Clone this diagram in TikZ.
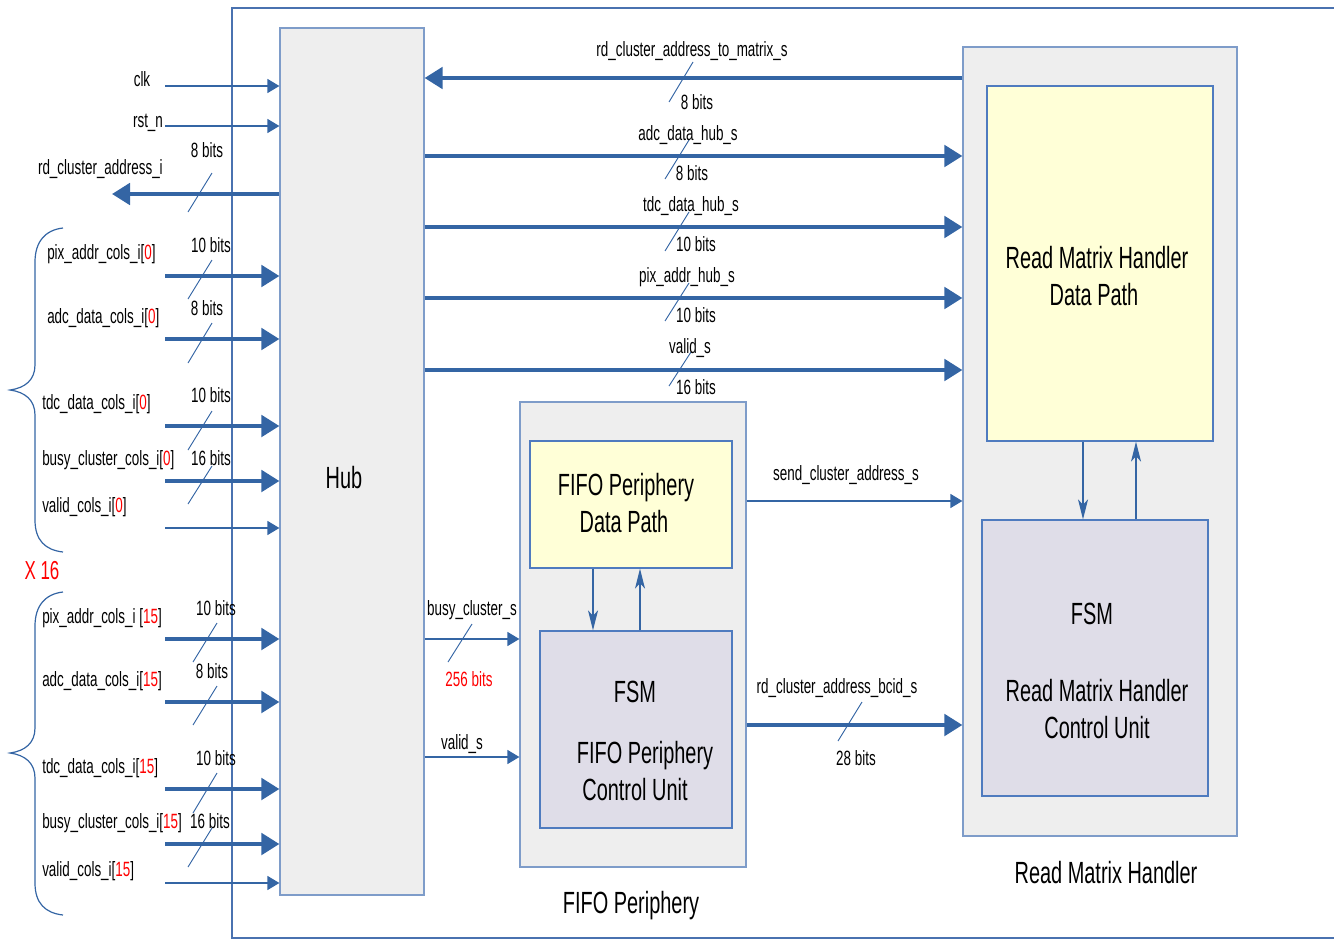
\documentclass[tikz,border=0pt]{standalone}
\usepackage{fontspec}
\setmainfont{Liberation Sans}[FakeStretch=0.65]
\usetikzlibrary{arrows.meta,fit}

\definecolor{wire}{HTML}{3465A4}
\definecolor{frameblue}{HTML}{4A72B0}
\definecolor{boxedge}{HTML}{4F7BBF}
\definecolor{outeredge}{HTML}{7E9CC9}
\definecolor{panel}{HTML}{EEEEEE}
\definecolor{dpfill}{HTML}{FFFFD7}
\definecolor{cufill}{HTML}{DFDDE8}
\definecolor{idx}{HTML}{FF0000}

\begin{document}
\begin{tikzpicture}[x=0.75pt,y=-0.75pt,
  sm/.style={font=\fontsize{15.5}{18}\selectfont, inner sep=0, anchor=base},
  smw/.style={sm, anchor=base west},
  big/.style={font=\fontsize{23}{27}\selectfont, inner sep=0, anchor=base},
  bus/.style={draw=wire, line width=3pt, -{Triangle[length=13.5pt,width=16pt]}},
  sig/.style={draw=wire, line width=1.1pt, -{Triangle[length=9pt,width=10.5pt]}},
  ctl/.style={draw=wire, line width=0.9pt, -{Stealth[length=15pt,width=7.5pt,inset=4pt]}},
  tick/.style={draw=wire, line width=0.7pt},
  brace/.style={draw=wire, line width=0.9pt},
  framing/.style={draw=frameblue, line width=0.9pt},
  outerbox/.style={draw=outeredge, fill=panel, line width=0.9pt, inner sep=0},
  dpbox/.style={draw=boxedge, fill=dpfill, line width=0.9pt, inner sep=0},
  cubox/.style={draw=boxedge, fill=cufill, line width=0.9pt, inner sep=0}]
\useasboundingbox (0,0) rectangle (1334,939);

% enclosing frame
\draw[framing] (1334,8) -- (232,8) -- (232,938) -- (1334,938);

% blocks
\node[outerbox, fit={(280,28) (424,895)}] (hub) {};
\node[big] (hubtxt) at (344,488) {Hub};

\node[outerbox, fit={(963,47) (1237,836)}] (rmh) {};
\node[dpbox, fit={(987,86) (1213,441)}] (rdp) {};
\node[cubox, fit={(982,520) (1208,796)}] (rcu) {};
\node[big] (rdpa) at (1097,268) {Read Matrix Handler};
\node[big] (rdpb) at (1094,305) {Data Path};
\node[big] (rcua) at (1092,624) {FSM};
\node[big] (rcub) at (1097,701) {Read Matrix Handler};
\node[big] (rcuc) at (1097,738) {Control Unit};
\node[big] (rmhtxt) at (1106,883) {Read Matrix Handler};

\node[outerbox, fit={(520,402) (746,867)}] (fifo) {};
\node[dpbox, fit={(530,441) (732,568)}] (fdp) {};
\node[cubox, fit={(540,631) (732,828)}] (fcu) {};
\node[big] (fdpa) at (626,495) {FIFO Periphery};
\node[big] (fdpb) at (624,532) {Data Path};
\node[big] (fcua) at (635,702) {FSM};
\node[big] (fcub) at (645,763) {FIFO Periphery};
\node[big] (fcuc) at (635,800) {Control Unit};
\node[big] (fifotxt) at (631,913) {FIFO Periphery};

% control links inside the blocks
\draw[ctl] (fdp.south -| 593,0) -- (fcu.north -| 593,0);
\draw[ctl] (fcu.north -| 640,0) -- (fdp.south -| 640,0);
\draw[ctl] (rdp.south -| 1083,0) -- (rcu.north -| 1083,0);
\draw[ctl] (rcu.north -| 1136,0) -- (rdp.south -| 1136,0);

% hub <-> read matrix handler
\draw[bus] (rmh.west |- 0,78) -- (hub.east |- 0,78);
\draw[bus] (hub.east |- 0,156) -- (rmh.west |- 0,156);
\draw[bus] (hub.east |- 0,227) -- (rmh.west |- 0,227);
\draw[bus] (hub.east |- 0,298) -- (rmh.west |- 0,298);
\draw[bus] (hub.east |- 0,370) -- (rmh.west |- 0,370);
\draw[tick] (693,62) -- (669,102);
\draw[tick] (689,140) -- (665,179);
\draw[tick] (689,212) -- (665,251);
\draw[tick] (689,283) -- (665,321);
\draw[tick] (691,352) -- (669,386);
\node[sm] (l1) at (692,56) {rd\_cluster\_address\_to\_matrix\_s};
\node[sm] (b1) at (697,109) {8 bits};
\node[sm] (l2) at (688,140) {adc\_data\_hub\_s};
\node[sm] (b2) at (692,180) {8 bits};
\node[sm] (l3) at (691,211) {tdc\_data\_hub\_s};
\node[sm] (b3) at (696,251) {10 bits};
\node[sm] (l4) at (687,282) {pix\_addr\_hub\_s};
\node[sm] (b4) at (696,322) {10 bits};
\node[sm] (l5) at (690,353) {valid\_s};
\node[sm] (b5) at (696,394) {16 bits};

% hub -> fifo periphery
\draw[sig] (hub.east |- 0,639) -- (fifo.west |- 0,639);
\draw[sig] (hub.east |- 0,757) -- (fifo.west |- 0,757);
\draw[tick] (472,624) -- (448,662);
\node[sm] (l6) at (472,615) {busy\_cluster\_s};
\node[sm, text=idx] (b6) at (469,686) {256 bits};
\node[sm] (l7) at (462,749) {valid\_s};

% fifo periphery -> read matrix handler
\draw[sig] (fifo.east |- 0,501) -- (rmh.west |- 0,501);
\draw[bus] (fifo.east |- 0,725) -- (rmh.west |- 0,725);
\draw[tick] (862,702) -- (838,741);
\node[sm] (l8) at (846,480) {send\_cluster\_address\_s};
\node[sm] (l9) at (837,693) {rd\_cluster\_address\_bcid\_s};
\node[sm] (b9) at (856,765) {28 bits};

% global ports
\coordinate (clkin) at (165,86);
\coordinate (rstin) at (165,126);
\coordinate (rdout) at (112,194);
\draw[sig] (clkin) -- (clkin -| hub.west);
\draw[sig] (rstin) -- (rstin -| hub.west);
\draw[bus] (hub.west |- rdout) -- (rdout);
\draw[tick] (212,173) -- (188,212);
\node[sm] (lclk) at (142,86) {clk};
\node[sm] (lrst) at (148,127) {rst\_n};
\node[sm, anchor=base east] (lrd) at (163,174) {rd\_cluster\_address\_i};
\node[sm] (brd) at (207,157) {8 bits};

% column 0 ports
\coordinate (p0) at (165,276);
\coordinate (a0) at (165,339);
\coordinate (t0) at (165,426);
\coordinate (c0) at (165,481);
\coordinate (v0) at (165,528);
\draw[bus] (p0) -- (p0 -| hub.west);
\draw[bus] (a0) -- (a0 -| hub.west);
\draw[bus] (t0) -- (t0 -| hub.west);
\draw[bus] (c0) -- (c0 -| hub.west);
\draw[sig] (v0) -- (v0 -| hub.west);
\draw[tick] (212,260) -- (188,299);
\draw[tick] (212,323) -- (188,363);
\draw[tick] (212,411) -- (188,450);
\draw[tick] (212,466) -- (188,504);
\node[smw] (lp0) at (47,259) {pix\_addr\_cols\_i[{\color{idx}0}]};
\node[smw] (la0) at (47,323) {adc\_data\_cols\_i[{\color{idx}0}]};
\node[smw] (lt0) at (42,409) {tdc\_data\_cols\_i[{\color{idx}0}]};
\node[smw] (lc0) at (42,465) {busy\_cluster\_cols\_i[{\color{idx}0}]};
\node[smw] (lv0) at (42,512) {valid\_cols\_i[{\color{idx}0}]};
\node[sm] (bp0) at (211,252) {10 bits};
\node[sm] (ba0) at (207,315) {8 bits};
\node[sm] (bt0) at (211,402) {10 bits};
\node[sm] (bc0) at (211,465) {16 bits};
\draw[brace] (63,228) .. controls (45,230) and (35,242) .. (35,262) -- (35,365)
  .. controls (35,380) and (25,388) .. (10,390)
  .. controls (25,392) and (35,400) .. (35,415) -- (35,520)
  .. controls (35,540) and (45,550) .. (63,552);

\node[anchor=base, inner sep=0, font=\fontsize{19.5}{23}\selectfont, text=idx] (rep) at (42,579) {X 16};

% column 15 ports
\coordinate (p15) at (165,639);
\coordinate (a15) at (165,702);
\coordinate (t15) at (165,789);
\coordinate (c15) at (165,844);
\coordinate (v15) at (165,883);
\draw[bus] (p15) -- (p15 -| hub.west);
\draw[bus] (a15) -- (a15 -| hub.west);
\draw[bus] (t15) -- (t15 -| hub.west);
\draw[bus] (c15) -- (c15 -| hub.west);
\draw[sig] (v15) -- (v15 -| hub.west);
\draw[tick] (217,623) -- (193,662);
\draw[tick] (217,686) -- (193,725);
\draw[tick] (217,773) -- (193,813);
\draw[tick] (212,828) -- (188,867);
\node[smw] (lp15) at (42,623) {pix\_addr\_cols\_i [{\color{idx}15}]};
\node[smw] (la15) at (42,686) {adc\_data\_cols\_i[{\color{idx}15}]};
\node[smw] (lt15) at (42,773) {tdc\_data\_cols\_i[{\color{idx}15}]};
\node[smw] (lc15) at (42,828) {busy\_cluster\_cols\_i[{\color{idx}15}]};
\node[smw] (lv15) at (42,876) {valid\_cols\_i[{\color{idx}15}]};
\node[sm] (bp15) at (216,615) {10 bits};
\node[sm] (ba15) at (212,678) {8 bits};
\node[sm] (bt15) at (216,765) {10 bits};
\node[sm] (bc15) at (210,828) {16 bits};
\draw[brace] (63,592) .. controls (45,594) and (35,606) .. (35,626) -- (35,728)
  .. controls (35,743) and (25,751) .. (10,753)
  .. controls (25,755) and (35,763) .. (35,778) -- (35,883)
  .. controls (35,903) and (45,913) .. (63,915);
\end{tikzpicture}
\end{document}
